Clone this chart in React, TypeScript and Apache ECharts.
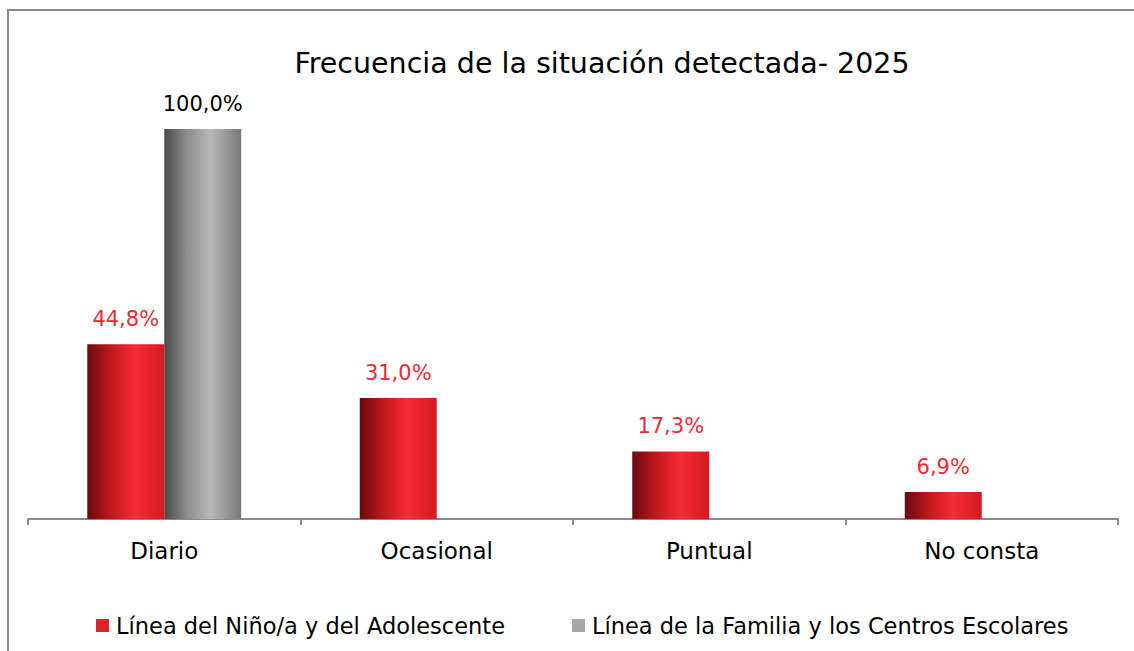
import React, { useEffect, useRef } from "react";
import * as echarts from "echarts";

const categories = ["Diario", "Ocasional", "Puntual", "No consta"];
const seriesNames = [
  "Línea del Niño/a y del Adolescente",
  "Línea de la Familia y los Centros Escolares",
];
const ninoValues = [44.8, 31.0, 17.3, 6.9];
const familiaValues: (number | null)[] = [100.0, null, null, null];
const titleText = "Frecuencia de la situación detectada- 2025";

const FONT = "'DejaVu Sans', sans-serif";

const fmt = (v: number) => v.toFixed(1).replace(".", ",") + "%";

export default function App() {
  const ref = useRef<HTMLDivElement>(null);
  useEffect(() => {
    if (!ref.current) return;
    const chart = echarts.init(ref.current, undefined, { renderer: "svg" });
    const redGrad = new echarts.graphic.LinearGradient(0, 0, 1, 0, [
      { offset: 0, color: "#6a0a0e" },
      { offset: 0.3, color: "#c0171e" },
      { offset: 0.62, color: "#f62b36" },
      { offset: 1, color: "#d41a22" },
    ]);
    const grayGrad = new echarts.graphic.LinearGradient(0, 0, 1, 0, [
      { offset: 0, color: "#4a4a4a" },
      { offset: 0.3, color: "#8e8e8e" },
      { offset: 0.6, color: "#b8b8b8" },
      { offset: 1, color: "#7a7a7a" },
    ]);
    chart.setOption({
      animation: false,
      backgroundColor: "#ffffff",
      title: {
        text: titleText,
        left: 597,
        textAlign: "center",
        top: 44,
        textStyle: { fontFamily: FONT, fontSize: 28.5, fontWeight: "normal", color: "#000" },
      },
      graphic: [
        {
          type: "rect",
          shape: { x: 8, y: 10, width: 1300, height: 800 },
          style: { fill: "none", stroke: "#8a8a8a", lineWidth: 2 },
          silent: true,
        },
      ],
      legend: {
        bottom: 9,
        left: 91,
        itemWidth: 13,
        itemHeight: 13,
        itemGap: 67,
        icon: "rect",
        textStyle: { fontFamily: FONT, fontSize: 22.5, color: "#000", padding: [0, 0, 0, 2] },
        data: [
          { name: seriesNames[0], itemStyle: { color: "#e0202a" } },
          { name: seriesNames[1], itemStyle: { color: "#a6a6a6" } },
        ],
      },
      grid: { left: 28, right: 16, top: 129, bottom: 132, containLabel: false },
      xAxis: {
        type: "category",
        data: categories,
        axisLine: { lineStyle: { color: "#8a8a8a", width: 2 } },
        axisTick: { show: true, length: 6, lineStyle: { color: "#8a8a8a", width: 2 } },
        axisLabel: { fontFamily: FONT, fontSize: 23, color: "#000", margin: 20 },
      },
      yAxis: {
        type: "value",
        min: 0,
        max: 100,
        show: false,
        splitLine: { show: false },
      },
      series: [
        {
          name: seriesNames[0],
          type: "bar",
          data: ninoValues,
          barGap: "0%",
          barCategoryGap: "43.5%",
          itemStyle: { color: redGrad },
          label: {
            show: true,
            position: "top",
            distance: 15,
            formatter: (p: any) => fmt(p.value),
            fontFamily: FONT,
            fontSize: 21,
            color: "#ec2a33",
          },
        },
        {
          name: seriesNames[1],
          type: "bar",
          data: familiaValues,
          barGap: "0%",
          barCategoryGap: "43.5%",
          itemStyle: { color: grayGrad },
          label: {
            show: true,
            position: "top",
            distance: 15,
            formatter: (p: any) => (p.value == null ? "" : fmt(p.value)),
            fontFamily: FONT,
            fontSize: 21,
            color: "#000",
          },
        },
      ],
    });
    return () => chart.dispose();
  }, []);
  return (
    <div
      ref={ref}
      style={{ position: "fixed", left: 0, top: 0, width: 1134, height: 651 }}
    />
  );
}
